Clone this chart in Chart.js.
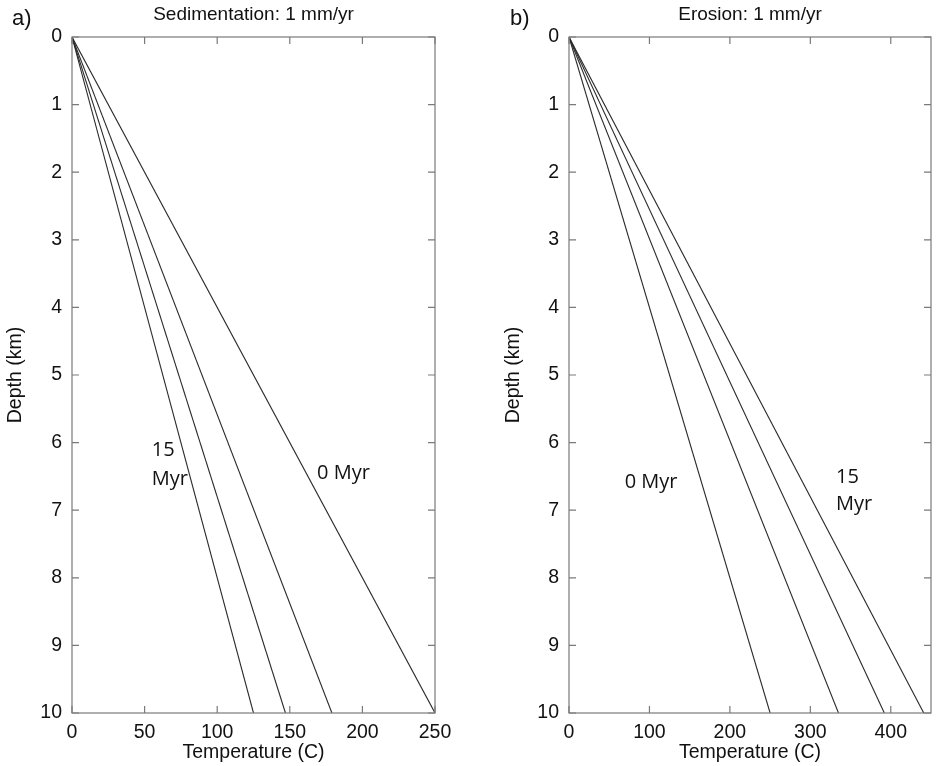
<!DOCTYPE html>
<html>
<head>
<meta charset="utf-8">
<script src="https://cdn.jsdelivr.net/npm/chart.js@4"></script>
<style>
  html, body { margin: 0; padding: 0; background: #fff; }
  #wrap { position: relative; width: 936px; height: 766px; }
  canvas { position: absolute; top: 0; }
</style>
</head>
<body>
<div id="wrap">
  <canvas id="sedChart" width="468" height="766" style="left:0"></canvas>
  <canvas id="eroChart" width="468" height="766" style="left:468px"></canvas>
</div>
<script>
// Geotherms: temperature at the base of the column (10 km), surface at 0 C ----
const depthKm = [0, 10];
const depthTicks = [0, 1, 2, 3, 4, 5, 6, 7, 8, 9, 10];

// sedimentation 1 mm/yr, lines from 0 Myr to 15 Myr
const sedTempBase = [250, 179, 147, 125];
const sedTempTicks = [0, 50, 100, 150, 200, 250];

// erosion 1 mm/yr, lines from 0 Myr to 15 Myr
const eroTempBase = [250, 335, 392, 441];
const eroTempTicks = [0, 100, 200, 300, 400];

const axisFont = { family: "'Liberation Sans', Arial, sans-serif", size: 19.5 };
const noteFont = "20px 'Open Sans', sans-serif";

function buildLines(baseTemps) {
  return baseTemps.map(t => ({
    data: depthKm.map(d => ({ x: t * d / depthKm[1], y: d })),
    borderColor: '#2a2a2a',
    borderWidth: 1.1,
    pointRadius: 0,
    tension: 0
  }));
}

// box, inward ticks on all four sides, titles and line notes
const framePlugin = {
  id: 'frame',
  afterDraw(chart, args, opts) {
    const ctx = chart.ctx;
    const { left, right, top, bottom } = chart.chartArea;
    const xs = chart.scales.x, ys = chart.scales.y;
    ctx.save();
    ctx.strokeStyle = '#7a7a7a';
    ctx.lineWidth = 1.2;
    ctx.strokeRect(left, top, right - left, bottom - top);
    ctx.beginPath();
    opts.xTicks.forEach(v => {
      const px = xs.getPixelForValue(v);
      ctx.moveTo(px, bottom); ctx.lineTo(px, bottom - 7);
      ctx.moveTo(px, top); ctx.lineTo(px, top + 7);
    });
    depthTicks.forEach(v => {
      const py = ys.getPixelForValue(v);
      ctx.moveTo(left, py); ctx.lineTo(left + 7, py);
      ctx.moveTo(right, py); ctx.lineTo(right - 7, py);
    });
    ctx.stroke();

    ctx.fillStyle = '#111';
    ctx.textBaseline = 'middle';
    ctx.textAlign = 'center';
    ctx.font = "19px 'Liberation Sans', Arial, sans-serif";
    ctx.fillText(opts.title, (left + right) / 2, 15);
    ctx.textAlign = 'left';
    ctx.font = "22px 'Liberation Sans', Arial, sans-serif";
    ctx.fillText(opts.letter, opts.letterX, 19);

    ctx.font = noteFont;
    opts.notes.forEach(n => {
      ctx.textAlign = n.align;
      ctx.fillText(n.text, xs.getPixelForValue(n.x), ys.getPixelForValue(n.y));
    });
    ctx.restore();
  }
};

function makeConfig(baseTemps, xTicks, xMax, yWidth, pad, frameOpts) {
  return {
    type: 'line',
    data: { datasets: buildLines(baseTemps) },
    options: {
      responsive: false,
      animation: false,
      devicePixelRatio: 1,
      layout: { padding: pad },
      plugins: { legend: { display: false }, tooltip: { enabled: false }, frame: frameOpts },
      scales: {
        x: {
          type: 'linear', min: 0, max: xMax,
          afterBuildTicks: s => { s.ticks = xTicks.map(v => ({ value: v })); },
          afterFit: s => { s.height = 53; },
          grid: { display: false, drawTicks: false },
          border: { display: false },
          ticks: { font: axisFont, color: '#111', padding: 8, maxRotation: 0 },
          title: { display: true, text: 'Temperature (C)', font: axisFont, color: '#111', padding: { top: 0, bottom: 2 } }
        },
        y: {
          type: 'linear', min: 0, max: 10, reverse: true,
          afterBuildTicks: s => { s.ticks = depthTicks.map(v => ({ value: v })); },
          afterFit: s => { s.width = yWidth; },
          grid: { display: false, drawTicks: false },
          border: { display: false },
          ticks: { font: axisFont, color: '#111', padding: 10 },
          title: { display: true, text: 'Depth (km)', font: axisFont, color: '#111', padding: { top: 4, bottom: 0 } }
        }
      }
    },
    plugins: [framePlugin]
  };
}

// render left panel
const sedChart = new Chart(
  document.getElementById('sedChart'),
  makeConfig(sedTempBase, sedTempTicks, 250, 72, { top: 37, right: 33, left: 0, bottom: 0 }, {
    title: 'Sedimentation: 1 mm/yr', letter: 'a)', letterX: 12, xTicks: sedTempTicks,
    notes: [
      { text: '15', x: 55, y: 6.11, align: 'left' },
      { text: 'Myr', x: 55, y: 6.55, align: 'left' },
      { text: '0 Myr', x: 187, y: 6.45, align: 'center' }
    ]
  })
);

// render right panel
const eroChart = new Chart(
  document.getElementById('eroChart'),
  makeConfig(eroTempBase, eroTempTicks, 450, 71, { top: 37, right: 5, left: 30, bottom: 0 }, {
    title: 'Erosion: 1 mm/yr', letter: 'b)', letterX: 42, xTicks: eroTempTicks,
    notes: [
      { text: '0 Myr', x: 102, y: 6.58, align: 'center' },
      { text: '15', x: 332, y: 6.51, align: 'left' },
      { text: 'Myr', x: 332, y: 6.92, align: 'left' }
    ]
  })
);
</script>
</body>
</html>
